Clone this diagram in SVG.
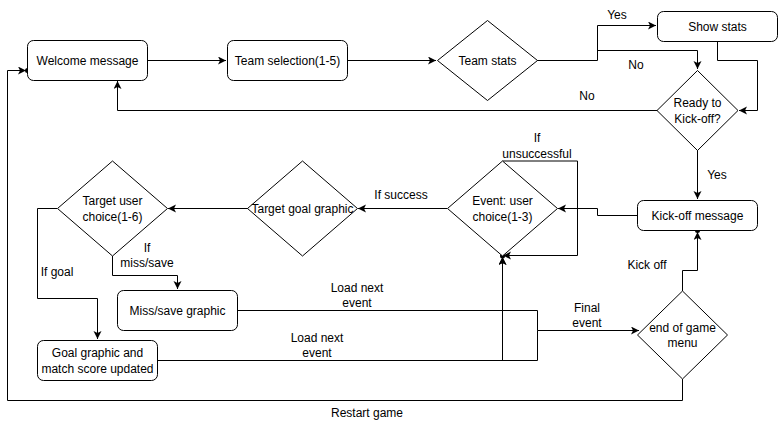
<svg xmlns="http://www.w3.org/2000/svg" width="778" height="431" viewBox="0 0 778 431">
<style>
.n{fill:#fff;stroke:#000;stroke-width:1}
.t{font-family:"Liberation Sans",Arial,sans-serif;font-size:12px;fill:#000;text-anchor:middle}
.e{fill:none;stroke:#000;stroke-width:1}
</style>
<defs>
<marker id="a" markerUnits="userSpaceOnUse" markerWidth="10" markerHeight="10" refX="8" refY="4" orient="auto">
<path d="M0,0 L8,4 L0,8 L2,4 z" fill="#000"/>
</marker>
</defs>
<rect width="778" height="431" fill="#fff"/>
<g id="connectors">
<path class="e" d="M147.5,60.5 H226" marker-end="url(#a)"/>
<path class="e" d="M347.5,60.5 H436" marker-end="url(#a)"/>
<path class="e" d="M537,60.5 H597.5 V25.5 H656" marker-end="url(#a)"/>
<path class="e" d="M597.5,50.5 H697.5 V69" marker-end="url(#a)"/>
<path class="e" d="M717.5,41 V60.5 H757.5 V110.5 H739" marker-end="url(#a)"/>
<path class="e" d="M657,110.5 H117.5 V81" marker-end="url(#a)"/>
<path class="e" d="M697.5,150 V199" marker-end="url(#a)"/>
<path class="e" d="M637.5,215.5 H597.5 V208.5 H558" marker-end="url(#a)"/>
<path class="e" d="M502.5,161 H577.5 V255.5 H503" marker-end="url(#a)"/>
<path class="e" d="M447,208.5 H358" marker-end="url(#a)"/>
<path class="e" d="M248,208.5 H168" marker-end="url(#a)"/>
<path class="e" d="M57,208.5 H37.5 V298.5 H97.5 V339" marker-end="url(#a)"/>
<path class="e" d="M112.5,256 V275.5 H177.5 V289" marker-end="url(#a)"/>
<path class="e" d="M237.5,310.5 H502.5 V257" marker-end="url(#a)"/>
<path class="e" d="M237.5,310.5 H537.5 V330.5 H639" marker-end="url(#a)"/>
<path class="e" d="M157.5,360.5 H502.5 V257" marker-end="url(#a)"/>
<path class="e" d="M157.5,360.5 H537.5 V330.5"/>
<path class="e" d="M682.5,291 V270.5 H697.5 V232" marker-end="url(#a)"/>
<path class="e" d="M682.5,379 V400.5 H7.5 V70.5 H26" marker-end="url(#a)"/>
<circle cx="27.5" cy="70.5" r="2.5" fill="#000"/>
<circle cx="502.5" cy="256" r="2.5" fill="#000"/>
<circle cx="697.5" cy="230.5" r="2.5" fill="#000"/>
<text class="t" x="617" y="19">Yes</text>
<text class="t" x="636" y="69">No</text>
<text class="t" x="587" y="100">No</text>
<text class="t" x="717" y="179">Yes</text>
<text class="t" x="537" y="142">If</text>
<text class="t" x="537" y="158">unsuccessful</text>
<text class="t" x="401" y="199">If success</text>
<text class="t" x="147" y="252">If</text>
<text class="t" x="147" y="267">miss/save</text>
<text class="t" x="57" y="276">If goal</text>
<text class="t" x="357" y="292">Load next</text>
<text class="t" x="357" y="307">event</text>
<text class="t" x="317" y="342">Load next</text>
<text class="t" x="317" y="357">event</text>
<text class="t" x="587" y="312">Final</text>
<text class="t" x="587" y="327">event</text>
<text class="t" x="647" y="269">Kick off</text>
<text class="t" x="367" y="417">Restart game</text>
</g>
<g id="welcome">
<rect class="n" x="27.5" y="40.5" width="120" height="40" rx="6"/>
<text class="t" x="87.5" y="64.5">Welcome message</text>
</g>
<g id="team-selection">
<rect class="n" x="227.5" y="40.5" width="120" height="40" rx="6"/>
<text class="t" x="287.5" y="64.5">Team selection(1-5)</text>
</g>
<g id="team-stats">
<path class="n" d="M487.5,20.5 L537.5,60.5 L487.5,100.5 L437.5,60.5 Z"/>
<text class="t" x="487.5" y="64.5">Team stats</text>
</g>
<g id="show-stats">
<rect class="n" x="657.5" y="11.5" width="120" height="30" rx="6"/>
<text class="t" x="717.5" y="30.5">Show stats</text>
</g>
<g id="ready">
<path class="n" d="M697.5,70.5 L738,110.5 L697.5,150.5 L657,110.5 Z"/>
<text class="t" x="697.5" y="107">Ready to</text>
<text class="t" x="697.5" y="123">Kick-off?</text>
</g>
<g id="kickoff-message">
<rect class="n" x="637.5" y="200.5" width="120" height="30" rx="6"/>
<text class="t" x="697.5" y="219.5">Kick-off message</text>
</g>
<g id="event">
<path class="n" d="M502.5,161 L557.5,208.5 L502.5,256 L447.5,208.5 Z"/>
<text class="t" x="502.5" y="205">Event: user</text>
<text class="t" x="502.5" y="221">choice(1-3)</text>
</g>
<g id="target-goal-graphic">
<path class="n" d="M302.5,161 L357.5,208.5 L302.5,256 L247.5,208.5 Z"/>
<text class="t" x="302.5" y="212.5">Target goal graphic</text>
</g>
<g id="target-user-choice">
<path class="n" d="M112.5,161 L167.5,208.5 L112.5,256 L57.5,208.5 Z"/>
<text class="t" x="112.5" y="205">Target user</text>
<text class="t" x="112.5" y="221">choice(1-6)</text>
</g>
<g id="miss-save">
<rect class="n" x="117.5" y="290.5" width="120" height="40" rx="6"/>
<text class="t" x="177.5" y="314.5">Miss/save graphic</text>
</g>
<g id="goal-graphic">
<rect class="n" x="37.5" y="340.5" width="120" height="40" rx="6"/>
<text class="t" x="97.5" y="356.5">Goal graphic and</text>
<text class="t" x="97.5" y="372.5">match score updated</text>
</g>
<g id="end-menu">
<path class="n" d="M682.5,291 L727.5,335 L682.5,379 L637.5,335 Z"/>
<text class="t" x="682.5" y="332">end of game</text>
<text class="t" x="682.5" y="347">menu</text>
</g>
</svg>
